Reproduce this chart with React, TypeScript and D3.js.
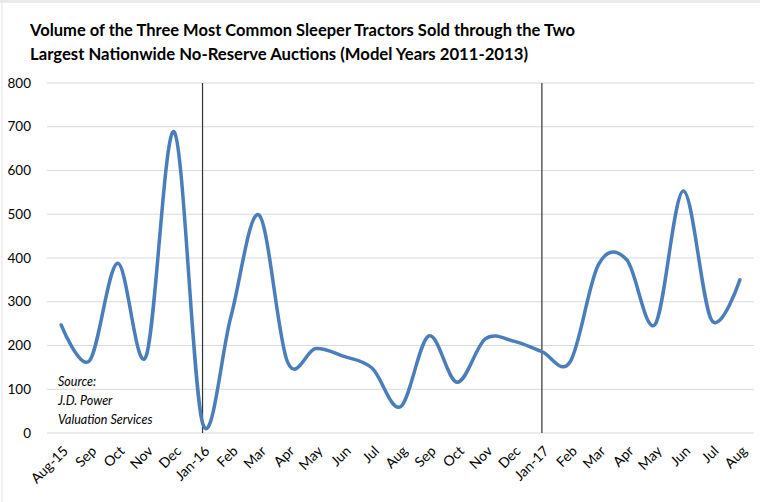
import React from 'react';
import * as d3 from 'd3';

const categories = ['Aug-15','Sep','Oct','Nov','Dec','Jan-16','Feb','Mar','Apr','May','Jun','Jul','Aug','Sep','Oct','Nov','Dec','Jan-17','Feb','Mar','Apr','May','Jun','Jul','Aug'];
const volumes = [247,165,388,175,688,23,265,498,163,193,175,148,60,222,116,215,210,186,163,385,396,248,553,258,350];
const yTicks = [0,100,200,300,400,500,600,700,800];
const dividerIndices = [5, 17];
const titleLines = [
  'Volume of the Three Most Common Sleeper Tractors Sold through the Two',
  'Largest Nationwide No-Reserve Auctions (Model Years 2011-2013)',
];
const titleWidths = [545, 498];
const sourceLines = ['Source:', 'J.D. Power', 'Valuation Services'];

const W = 760, H = 502;
const plot = { left: 47, right: 754, top: 83, bottom: 433 };
const FONT = 'Lato, "Open Sans", sans-serif';

export default function App() {
  const keys = categories.map((_, i) => String(i));
  const xb = d3.scaleBand().domain(keys).range([plot.left, plot.right]).padding(0);
  const xc = (i: number) => (xb(String(i)) as number) + xb.bandwidth() / 2;
  const y = d3.scaleLinear().domain([0, 800]).range([plot.bottom, plot.top]);
  const line = d3.line<number>()
    .x((_, i) => xc(i))
    .y((d) => y(d))
    .curve(d3.curveCardinal.tension(0));
  const path = line(volumes) || '';

  return (
    <svg width={W} height={H} style={{ position: 'absolute', left: 0, top: 0, background: '#fff' }}>
      <rect x={0} y={0} width={W} height={3} fill="#ebebeb" />
      <line x1={2} x2={2} y1={0} y2={H} stroke="#e3e3e3" strokeWidth={1} />
      {titleLines.map((t, i) => (
        <text key={i} x={30} y={36 + i * 24} fontFamily={FONT} fontWeight={700} fontSize={17.5}
          textLength={titleWidths[i]} lengthAdjust="spacingAndGlyphs" fill="#000">{t}</text>
      ))}
      {yTicks.map((v) => (
        <g key={v}>
          <line x1={plot.left} x2={plot.right} y1={y(v)} y2={y(v)} stroke="#d9d9d9" strokeWidth={1} />
          <text x={31} y={y(v)} dy="0.35em" textAnchor="end" fontFamily={FONT} fontSize={13.5} fill="#000">{v}</text>
        </g>
      ))}
      {dividerIndices.map((i) => (
        <line key={i} x1={xc(i)} x2={xc(i)} y1={plot.top} y2={plot.bottom} stroke="#333" strokeWidth={1.2} />
      ))}
      <path d={path} fill="none" stroke="#4a7ebb" strokeWidth={3.5} strokeLinejoin="round" strokeLinecap="round" />
      {categories.map((c, i) => (
        <text key={i} transform={`translate(${xc(i) + 1},${plot.bottom + 12}) rotate(-45)`}
          textAnchor="end" dy="0.7em" fontFamily={FONT} fontSize={14} fill="#000">{c}</text>
      ))}
      {sourceLines.map((s, i) => (
        <text key={i} x={58} y={386 + i * 19} fontFamily={FONT} fontStyle="italic" fontSize={12.5} fill="#000">{s}</text>
      ))}
    </svg>
  );
}
